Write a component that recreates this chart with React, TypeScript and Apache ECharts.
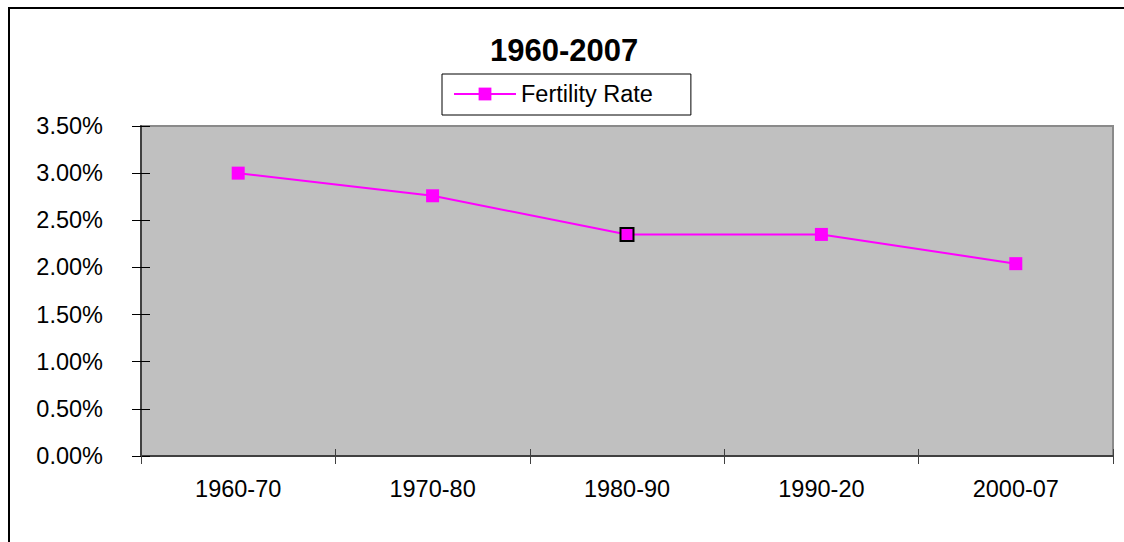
import React, { useEffect, useRef } from "react";
import * as echarts from "echarts";

const categories = ["1960-70", "1970-80", "1980-90", "1990-20", "2000-07"];
const fertilityRate = [3.0, 2.76, 2.35, 2.35, 2.04];
const highlightedIndex = 2;
const seriesName = "Fertility Rate";
const chartTitle = "1960-2007";

const FONT = "Arial, 'Liberation Sans', sans-serif";

export default function App() {
  const ref = useRef<HTMLDivElement>(null);

  useEffect(() => {
    if (!ref.current) return;
    const chart = echarts.init(ref.current, undefined, { renderer: "svg" });
    const data = fertilityRate.map((v, i) =>
      i === highlightedIndex
        ? { value: v, itemStyle: { borderColor: "#000000", borderWidth: 2 } }
        : v
    );
    chart.setOption({
      animation: false,
      backgroundColor: "#ffffff",
      title: {
        text: chartTitle,
        left: 490,
        top: 35,
        padding: 0,
        textStyle: { fontFamily: FONT, fontSize: 31, fontWeight: "bold", color: "#000" },
      },
      legend: {
        left: 442,
        top: 74,
        padding: [8, 38, 9, 11],
        itemWidth: 62,
        itemHeight: 16,
        borderColor: "#000",
        borderWidth: 1,
        backgroundColor: "#fff",
        textStyle: { fontFamily: FONT, fontSize: 23.5, color: "#000" },
        data: [seriesName],
      },
      grid: {
        left: 141,
        top: 126,
        width: 972,
        height: 330,
        show: true,
        backgroundColor: "#c0c0c0",
        borderColor: "#8a8a8a",
        borderWidth: 2,
        containLabel: false,
      },
      xAxis: [
        {
          type: "category",
          data: categories,
          boundaryGap: true,
          axisLine: { show: true, lineStyle: { color: "#404040", width: 2 } },
          axisTick: { show: true, inside: false, length: 8, lineStyle: { color: "#404040", width: 1 } },
          axisLabel: { margin: 21, fontFamily: FONT, fontSize: 23.5, color: "#000" },
          splitLine: { show: false },
        },
        {
          type: "category",
          data: categories,
          position: "bottom",
          boundaryGap: true,
          axisLine: { show: false },
          axisTick: { show: true, inside: true, length: 7, lineStyle: { color: "#404040", width: 1 } },
          axisLabel: { show: false },
          splitLine: { show: false },
        },
      ],
      yAxis: [
        {
          type: "value",
          min: 0,
          max: 3.5,
          interval: 0.5,
          axisLine: { show: true, lineStyle: { color: "#404040", width: 2 } },
          axisTick: { show: true, inside: false, length: 9, lineStyle: { color: "#000", width: 1 } },
          axisLabel: {
            margin: 38,
            fontFamily: FONT,
            fontSize: 23.5,
            color: "#000",
            formatter: (v: number) => v.toFixed(2) + "%",
          },
          splitLine: { show: false },
        },
        {
          type: "value",
          min: 0,
          max: 3.5,
          interval: 0.5,
          position: "left",
          axisLine: { show: false },
          axisTick: { show: true, inside: true, length: 9, lineStyle: { color: "#000", width: 1 } },
          axisLabel: { show: false },
          splitLine: { show: false },
        },
      ],
      series: [
        {
          name: seriesName,
          type: "line",
          xAxisIndex: 0,
          yAxisIndex: 0,
          data,
          symbol: "rect",
          symbolSize: 13,
          lineStyle: { color: "#ff00ff", width: 2 },
          itemStyle: { color: "#ff00ff" },
          emphasis: { disabled: true },
        },
      ],
    });
    return () => chart.dispose();
  }, []);

  return (
    <div style={{ position: "absolute", left: 0, top: 0, width: 1124, height: 542, overflow: "hidden", background: "#fff" }}>
      <div ref={ref} style={{ position: "absolute", left: 0, top: 0, width: 1124, height: 542 }} />
      <div
        style={{
          position: "absolute",
          left: 8,
          top: 7,
          width: 1300,
          height: 700,
          border: "2px solid #000",
          pointerEvents: "none",
        }}
      />
    </div>
  );
}
